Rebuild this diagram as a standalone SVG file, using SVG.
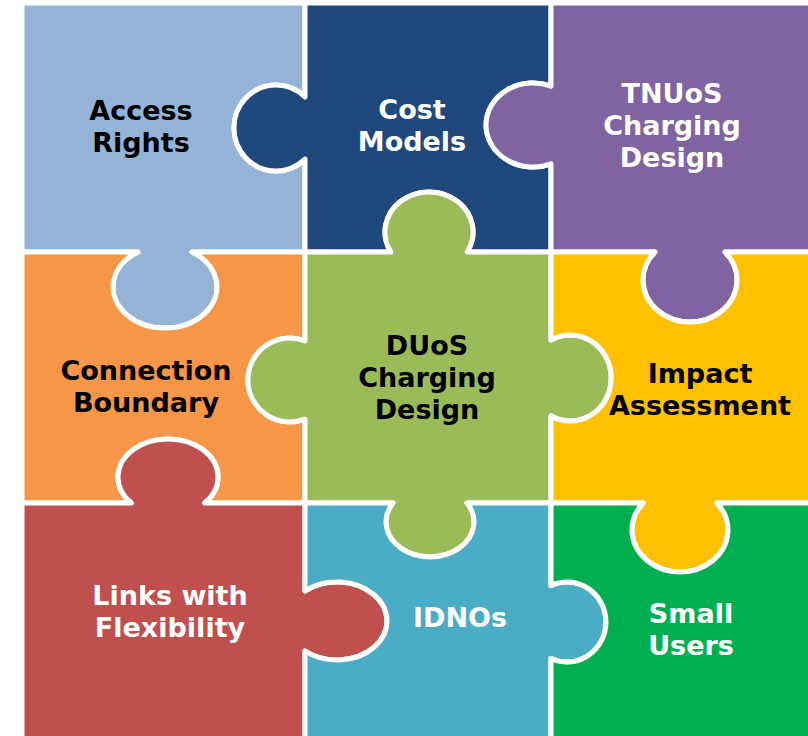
<svg xmlns="http://www.w3.org/2000/svg" width="808" height="736" viewBox="0 0 808 736">
<style>
.pc{stroke:#FFFFFF;stroke-width:5;stroke-linejoin:round}
.t{font-family:"DejaVu Sans","Verdana",sans-serif;font-weight:bold;font-size:27px;text-anchor:middle}
.dk{fill:#000000}
.wt{fill:#FFFFFF}
</style>
<rect x="0" y="0" width="808" height="736" fill="#FFFFFF"/>
<g id="access-rights">
<path class="pc" fill="#95B3D7" d="M22,3 H305 V96.9 A42 43 0 1 0 305,159.1 V252 H192 A52 41 0 1 1 138,252 H22 Z"/>
<text class="t dk" x="141" y="120">Access</text>
<text class="t dk" x="141" y="152">Rights</text>
</g>
<g id="cost-models">
<path class="pc" fill="#1F497D" d="M305,3 H551 V86.2 A47 42 0 1 0 551,163.8 V252 H467.1 A44 40 0 1 0 390.9,252 H305 V159.1 A42 43 0 1 1 305,96.9 Z"/>
<text class="t wt" x="412" y="119">Cost</text>
<text class="t wt" x="412" y="151">Models</text>
</g>
<g id="tnuos-charging-design">
<path class="pc" fill="#8064A2" d="M551,3 H812 V252 H725 A47 42 0 1 1 655,252 H551 V163.8 A47 42 0 1 1 551,86.2 Z"/>
<text class="t wt" x="672" y="103">TNUoS</text>
<text class="t wt" x="672" y="135">Charging</text>
<text class="t wt" x="672" y="167">Design</text>
</g>
<g id="connection-boundary">
<path class="pc" fill="#F79646" d="M22,252 H138 A52 41 0 1 0 192,252 H305 V340.8 A42 42 0 1 0 305,419.2 V503 H204.5 A50 38 0 1 0 131.5,503 H22 Z"/>
<text class="t dk" x="146" y="380">Connection</text>
<text class="t dk" x="146" y="412">Boundary</text>
</g>
<g id="duos-charging-design">
<path class="pc" fill="#9BBB59" d="M305,252 H390.9 A44 40 0 1 1 467.1,252 H551 V340 A41 43 0 1 1 551,416 V503 H467 A44 35 0 1 1 393,503 H305 V419.2 A42 42 0 1 1 305,340.8 Z"/>
<text class="t dk" x="427" y="355">DUoS</text>
<text class="t dk" x="427" y="387">Charging</text>
<text class="t dk" x="427" y="419">Design</text>
</g>
<g id="impact-assessment">
<path class="pc" fill="#FFC000" d="M551,252 H655 A47 42 0 1 0 725,252 H812 V503 H716.8 A48 42 0 1 1 643.2,503 H551 V416 A41 43 0 1 0 551,340 Z"/>
<text class="t dk" x="700" y="383">Impact</text>
<text class="t dk" x="700" y="415">Assessment</text>
</g>
<g id="links-with-flexibility">
<path class="pc" fill="#C0504D" d="M22,503 H131.5 A50 38 0 1 1 204.5,503 H305 V591 A50 39 0 1 1 305,651 V740 H22 Z"/>
<text class="t wt" x="170" y="605">Links with</text>
<text class="t wt" x="170" y="637">Flexibility</text>
</g>
<g id="idnos">
<path class="pc" fill="#4BACC6" d="M305,503 H393 A44 35 0 1 0 467,503 H551 V585.5 A39 40 0 1 1 551,658.5 V740 H305 V651 A50 39 0 1 0 305,591 Z"/>
<text class="t wt" x="460" y="627">IDNOs</text>
</g>
<g id="small-users">
<path class="pc" fill="#00B050" d="M551,503 H643.2 A48 42 0 1 0 716.8,503 H812 V740 H551 V658.5 A39 40 0 1 0 551,585.5 Z"/>
<text class="t wt" x="691" y="623">Small</text>
<text class="t wt" x="691" y="655">Users</text>
</g>
<g id="connectors"></g>
</svg>
